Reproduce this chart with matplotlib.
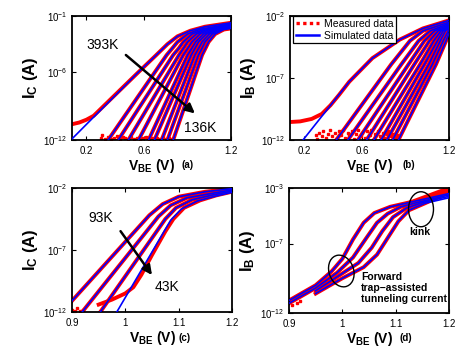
import matplotlib
matplotlib.use('Agg')
import matplotlib.pyplot as plt
from matplotlib.patches import Ellipse
from matplotlib.ticker import NullLocator, FixedLocator, FixedFormatter
import numpy as np

plt.rcParams['font.family'] = ['Liberation Sans', 'DejaVu Sans']
plt.rcParams['mathtext.fontset'] = 'custom'
plt.rcParams['mathtext.rm'] = 'Liberation Sans'
plt.rcParams['mathtext.bf'] = 'Liberation Sans:bold'
plt.rcParams['mathtext.it'] = 'Liberation Sans:italic'

# ---- panel (a): IC, 393K .. 136K (V, log10 I) ----
a_sim_v = [
    [0.10, 0.55, 0.68, 0.76, 0.83, 0.92, 1.02, 1.20],
    [0.35, 0.755, 0.795, 0.83, 0.90, 0.98, 1.20],
    [0.42, 0.80, 0.84, 0.87, 0.93, 1.01, 1.20],
    [0.49, 0.84, 0.872, 0.90, 0.96, 1.03, 1.20],
    [0.56, 0.87, 0.902, 0.93, 0.985, 1.05, 1.20],
    [0.63, 0.90, 0.93, 0.955, 1.01, 1.07, 1.20],
    [0.67, 0.925, 0.952, 0.975, 1.03, 1.09, 1.20],
    [0.72, 0.95, 0.977, 1.00, 1.05, 1.11, 1.20],
    [0.76, 0.975, 1.0, 1.02, 1.07, 1.13, 1.20],
    [0.80, 1.00, 1.024, 1.045, 1.09, 1.15, 1.20],
]
a_sim_logi = [
    [-11.9, -6.1, -4.5, -3.5, -2.8, -2.3, -1.95, -1.6],
    [-12, -4.46, -3.85, -3.3, -2.6, -2.2, -1.7],
    [-12, -4.46, -3.85, -3.3, -2.6, -2.2, -1.75],
    [-12, -4.46, -3.85, -3.3, -2.6, -2.2, -1.8],
    [-12, -4.46, -3.85, -3.3, -2.6, -2.2, -1.85],
    [-12, -4.46, -3.85, -3.3, -2.6, -2.2, -1.9],
    [-12, -4.46, -3.85, -3.3, -2.6, -2.2, -1.95],
    [-12, -4.46, -3.85, -3.3, -2.6, -2.2, -2.0],
    [-12, -4.46, -3.85, -3.3, -2.6, -2.2, -2.05],
    [-12, -4.46, -3.85, -3.3, -2.6, -2.2, -2.1],
]
a_low_v = [0.10, 0.15, 0.20, 0.25]          # measured 393K leakage floor
a_low_logi = [-10.6, -10.45, -10.2, -9.85]
a_noise_v = [0.30, 0.31, 0.33, 0.35, 0.37, 0.39, 0.41, 0.43, 0.45, 0.47, 0.49, 0.51, 0.53,
             0.55, 0.57, 0.59, 0.61, 0.63, 0.65, 0.67, 0.69, 0.71, 0.73, 0.75, 0.77, 0.79]
a_noise_logi = [-11.8, -11.6, -11.9, -11.7, -11.95, -11.8, -11.65, -11.9, -11.75, -11.85, -11.95, -11.7, -11.9,
                -11.8, -11.95, -11.85, -11.7, -11.9, -11.8, -11.95, -11.85, -11.9, -11.75, -11.95, -11.85, -11.9]

# ---- panel (b): IB, 393K .. 136K ----
b_sim_v = [
    [0.19, 0.51, 0.67, 0.86, 1.02, 1.20],
    [0.42, 0.80, 0.93, 1.02, 1.20],
    [0.50, 0.87, 0.99, 1.07, 1.20],
    [0.57, 0.92, 1.03, 1.10, 1.20],
    [0.63, 0.96, 1.065, 1.125, 1.20],
    [0.68, 1.00, 1.095, 1.145, 1.20],
    [0.73, 1.03, 1.12, 1.16, 1.20],
    [0.77, 1.06, 1.14, 1.175, 1.20],
    [0.81, 1.085, 1.16, 1.20],
    [0.85, 1.11, 1.18, 1.20],
]
b_sim_logi = [
    [-12, -7.3, -5.4, -3.9, -3.0, -2.35],
    [-12, -5.9, -4.0, -3.2, -2.5],
    [-12, -5.9, -4.0, -3.2, -2.6],
    [-12, -5.9, -4.0, -3.2, -2.7],
    [-12, -5.9, -4.0, -3.2, -2.8],
    [-12, -5.9, -4.0, -3.2, -2.85],
    [-12, -5.9, -4.0, -3.2, -2.9],
    [-12, -5.9, -4.0, -3.2, -3.0],
    [-12, -5.9, -4.0, -3.1],
    [-12, -5.9, -4.0, -3.4],
]
b_low_v = [0.10, 0.17, 0.25, 0.32, 0.38, 0.44]
b_low_logi = [-10.55, -10.5, -10.3, -9.9, -9.2, -8.35]
b_noise_v = [0.28, 0.29, 0.30, 0.32, 0.33, 0.35, 0.36, 0.38, 0.39, 0.41, 0.42, 0.44, 0.45, 0.47,
             0.48, 0.50, 0.51, 0.53, 0.54, 0.56, 0.57, 0.59, 0.60, 0.62, 0.63, 0.65, 0.66, 0.68,
             0.69, 0.71, 0.72, 0.74, 0.75, 0.77, 0.78, 0.80, 0.81, 0.83, 0.84]
b_noise_logi = [-11.6, -11.9, -11.4, -11.7, -11.3, -11.8, -11.5, -11.2, -11.7, -11.4, -11.9, -11.3, -11.6, -11.2,
                -11.8, -11.4, -11.6, -11.3, -11.9, -11.5, -11.2, -11.7, -11.4, -11.8, -11.3, -11.6, -11.2, -11.9,
                -11.5, -11.3, -11.7, -11.4, -11.8, -11.5, -11.3, -11.7, -11.5, -11.8, -11.6]

# ---- panel (c): IC, 93K .. 43K ----
c_sim_v = [
    [0.90, 1.045, 1.07, 1.10, 1.15, 1.20],
    [0.919, 1.062, 1.085, 1.115, 1.16, 1.20],
    [0.953, 1.075, 1.095, 1.125, 1.165, 1.20],
    [0.984, 1.085, 1.105, 1.135, 1.17, 1.20],
]
c_sim_logi = [
    [-11.1, -4.2, -3.3, -2.7, -2.3, -2.05],
    [-12, -4.3, -3.4, -2.8, -2.45, -2.15],
    [-12, -4.5, -3.6, -2.95, -2.55, -2.25],
    [-12, -4.6, -3.7, -3.05, -2.65, -2.35],
]
c_meas43_v = [0.95, 0.975, 1.00, 1.015, 1.03, 1.05, 1.075, 1.09, 1.11, 1.14, 1.17, 1.20]
c_meas43_logi = [-11.4, -11.0, -10.5, -10.0, -9.0, -7.4, -5.5, -4.5, -3.6, -3.0, -2.6, -2.3]
c_noise_v = [0.900, 0.905, 0.910, 0.915, 0.920]
c_noise_logi = [-11.8, -11.95, -11.7, -11.9, -11.85]

# ---- panel (d): IB, 93K .. 43K ----
d_sim_v = [
    [0.90, 0.95, 0.98, 1.00, 1.02, 1.04, 1.06, 1.09, 1.13, 1.20],
    [0.90, 0.95, 0.99, 1.02, 1.045, 1.065, 1.085, 1.11, 1.14, 1.20],
    [0.95, 0.99, 1.03, 1.055, 1.075, 1.095, 1.12, 1.15, 1.20],
    [0.95, 1.00, 1.04, 1.065, 1.085, 1.105, 1.125, 1.155, 1.20],
]
d_sim_logi = [
    [-11.1, -10.0, -9.0, -8.1, -6.7, -5.5, -4.8, -4.35, -4.0, -3.4],
    [-11.3, -10.2, -9.1, -8.0, -6.6, -5.5, -4.85, -4.35, -4.05, -3.5],
    [-10.4, -9.4, -8.4, -7.3, -6.1, -5.1, -4.45, -4.05, -3.6],
    [-10.6, -9.5, -8.7, -7.8, -6.6, -5.4, -4.6, -4.1, -3.7],
]
d_meas_end = [-3.0, -3.1, -3.2, -3.3]   # measured value at 1.2 V, above the kink
d_noise_v = [0.900, 0.905, 0.910, 0.915, 0.920]
d_noise_logi = [-11.2, -11.4, -11.0, -11.3, -11.1]

RED = '#ff0000'
BLUE = '#0000ff'


def draw(ax, sim_v, sim_logi, meas_v, meas_logi):
    for v, li in zip(meas_v, meas_logi):
        ax.plot(v, 10.0 ** np.array(li), color=RED, lw=2.8, zorder=2)
    for v, li in zip(sim_v, sim_logi):
        ax.plot(v, 10.0 ** np.array(li), color=BLUE, lw=1.2, zorder=3)


def style(ax, xlim, xt, xtl, ylim, yt):
    ax.set_yscale('log')
    ax.set_xlim(*xlim)
    ax.set_ylim(*ylim)
    ax.xaxis.set_major_locator(FixedLocator(xt))
    ax.xaxis.set_major_formatter(FixedFormatter(xtl))
    ax.set_yticks(yt)
    ax.yaxis.set_minor_locator(NullLocator())
    ax.tick_params(direction='in', top=True, right=True, length=3, width=0.8, labelsize=7)
    ax.tick_params(axis='x', pad=4)
    for s in ax.spines.values():
        s.set_linewidth(1.3)


fig = plt.figure(figsize=(4.73, 3.55), dpi=100)
ax_a = fig.add_axes([72 / 473, 1 - 140 / 355, 159 / 473, 124 / 355])
ax_b = fig.add_axes([290 / 473, 1 - 140 / 355, 159 / 473, 124 / 355])
ax_c = fig.add_axes([72 / 473, 1 - 312 / 355, 160 / 473, 124 / 355])
ax_d = fig.add_axes([289 / 473, 1 - 313 / 355, 160 / 473, 125 / 355])

arrow = dict(arrowstyle='-|>', lw=1.8, color='k', mutation_scale=14)

# (a)
a_meas_v = [list(v) for v in a_sim_v]
a_meas_logi = [list(l) for l in a_sim_logi]
a_meas_v[0] = a_low_v + [x for x in a_sim_v[0] if x > 0.25]
a_meas_logi[0] = a_low_logi + [l for x, l in zip(a_sim_v[0], a_sim_logi[0]) if x > 0.25]
draw(ax_a, a_sim_v, a_sim_logi, a_meas_v, a_meas_logi)
ax_a.plot(a_noise_v, 10.0 ** np.array(a_noise_logi), 's', color=RED, ms=2, zorder=2)
style(ax_a, (0.1, 1.2), [0.2, 0.6, 1.2], ['0.2', '0.6', '1.2'], (1e-12, 1e-1), [1e-12, 1e-6, 1e-1])
ax_a.annotate('', xy=(0.965, 10 ** -9.8), xytext=(0.458, 10 ** -4.3), arrowprops=arrow, zorder=5)
ax_a.text(0.31, 10 ** -3.57, '393K', fontsize=10, ha='center', va='center')
ax_a.text(0.99, 10 ** -10.97, '136K', fontsize=10, ha='center', va='center')
ax_a.set_ylabel(r'$\mathbf{I_C}$ (A)', fontsize=12, fontweight='bold', labelpad=2)
ax_a.set_xlabel(r'$\mathbf{V_{BE}}$ (V)', fontsize=10, fontweight='bold', labelpad=1)

# (b)
b_meas_v = [list(v) for v in b_sim_v]
b_meas_logi = [list(l) for l in b_sim_logi]
b_meas_v[0] = b_low_v + [x for x in b_sim_v[0] if x > 0.44]
b_meas_logi[0] = b_low_logi + [l for x, l in zip(b_sim_v[0], b_sim_logi[0]) if x > 0.44]
draw(ax_b, b_sim_v, b_sim_logi, b_meas_v, b_meas_logi)
ax_b.plot(b_noise_v, 10.0 ** np.array(b_noise_logi), 's', color=RED, ms=2, zorder=2)
style(ax_b, (0.1, 1.2), [0.2, 0.6, 1.2], ['0.2', '0.6', '1.2'], (1e-12, 1e-2), [1e-12, 1e-7, 1e-2])
ax_b.set_ylabel(r'$\mathbf{I_B}$ (A)', fontsize=12, fontweight='bold', labelpad=2)
ax_b.set_xlabel(r'$\mathbf{V_{BE}}$ (V)', fontsize=10, fontweight='bold', labelpad=1)
h_meas, = ax_b.plot([], [], color=RED, lw=2.4, ls=(0, (1, 1)))
h_sim, = ax_b.plot([], [], color=BLUE, lw=1.8)
leg = ax_b.legend([h_meas, h_sim], ['Measured data', 'Simulated data'], loc='upper left',
                  bbox_to_anchor=(0.02, 1.0), borderaxespad=0, fontsize=7.5, fancybox=False,
                  framealpha=1, edgecolor='k', handlelength=2.2, borderpad=0.25, labelspacing=0.2,
                  handletextpad=0.5)
leg.get_frame().set_linewidth(0.9)

# (c)
c_meas_v = [list(v) for v in c_sim_v[:3]] + [c_meas43_v]
c_meas_logi = [list(l) for l in c_sim_logi[:3]] + [c_meas43_logi]
draw(ax_c, c_sim_v, c_sim_logi, c_meas_v, c_meas_logi)
ax_c.plot(c_noise_v, 10.0 ** np.array(c_noise_logi), 's', color=RED, ms=2, zorder=2)
style(ax_c, (0.9, 1.2), [0.9, 1.0, 1.1, 1.2], ['0.9', '1', '1.1', '1.2'], (1e-12, 1e-2), [1e-12, 1e-7, 1e-2])
ax_c.annotate('', xy=(1.053, 10 ** -9.2), xytext=(0.988, 10 ** -5.3), arrowprops=arrow, zorder=5)
ax_c.text(0.953, 10 ** -4.4, '93K', fontsize=10, ha='center', va='center')
ax_c.text(1.078, 10 ** -10.0, '43K', fontsize=10, ha='center', va='center')
ax_c.set_ylabel(r'$\mathbf{I_C}$ (A)', fontsize=12, fontweight='bold', labelpad=2)
ax_c.set_xlabel(r'$\mathbf{V_{BE}}$ (V)', fontsize=10, fontweight='bold', labelpad=1)

# (d)
d_meas_v = [list(v) for v in d_sim_v]
d_meas_logi = [list(l[:-1]) + [e] for l, e in zip(d_sim_logi, d_meas_end)]
draw(ax_d, d_sim_v, d_sim_logi, d_meas_v, d_meas_logi)
ax_d.plot(d_noise_v, 10.0 ** np.array(d_noise_logi), 's', color=RED, ms=2, zorder=2)
style(ax_d, (0.9, 1.2), [0.9, 1.0, 1.1, 1.2], ['0.9', '1', '1.1', '1.2'], (1e-12, 1e-3), [1e-12, 1e-7, 1e-3])
ax_d.add_patch(Ellipse((0.825, 0.83), 0.156, 0.28, transform=ax_d.transAxes,
                       fill=False, ec='k', lw=1.0, zorder=6))
ax_d.add_patch(Ellipse((0.327, 0.336), 0.156, 0.256, angle=10, transform=ax_d.transAxes,
                       fill=False, ec='k', lw=1.0, zorder=6))
ax_d.text(0.817, 0.65, 'kink', transform=ax_d.transAxes, fontsize=7.5, fontweight='bold',
          ha='center', va='center')
ax_d.text(0.452, 0.2, 'Forward\ntrap\u2212assisted\ntunneling current', transform=ax_d.transAxes,
          fontsize=7.5, fontweight='bold', ha='left', va='center', linespacing=1.1)
ax_d.set_ylabel(r'$\mathbf{I_B}$ (A)', fontsize=12, fontweight='bold', labelpad=2)
ax_d.set_xlabel(r'$\mathbf{V_{BE}}$ (V)', fontsize=10, fontweight='bold', labelpad=1)

# panel tags
fig.text(188 / 473, 1 - 165 / 355, '(a)', fontsize=7, fontweight='bold', ha='center', va='center')
fig.text(409 / 473, 1 - 165 / 355, '(b)', fontsize=7, fontweight='bold', ha='center', va='center')
fig.text(185 / 473, 1 - 338 / 355, '(c)', fontsize=7, fontweight='bold', ha='center', va='center')
fig.text(406 / 473, 1 - 338 / 355, '(d)', fontsize=7, fontweight='bold', ha='center', va='center')

fig.savefig('out.png', dpi=100)
